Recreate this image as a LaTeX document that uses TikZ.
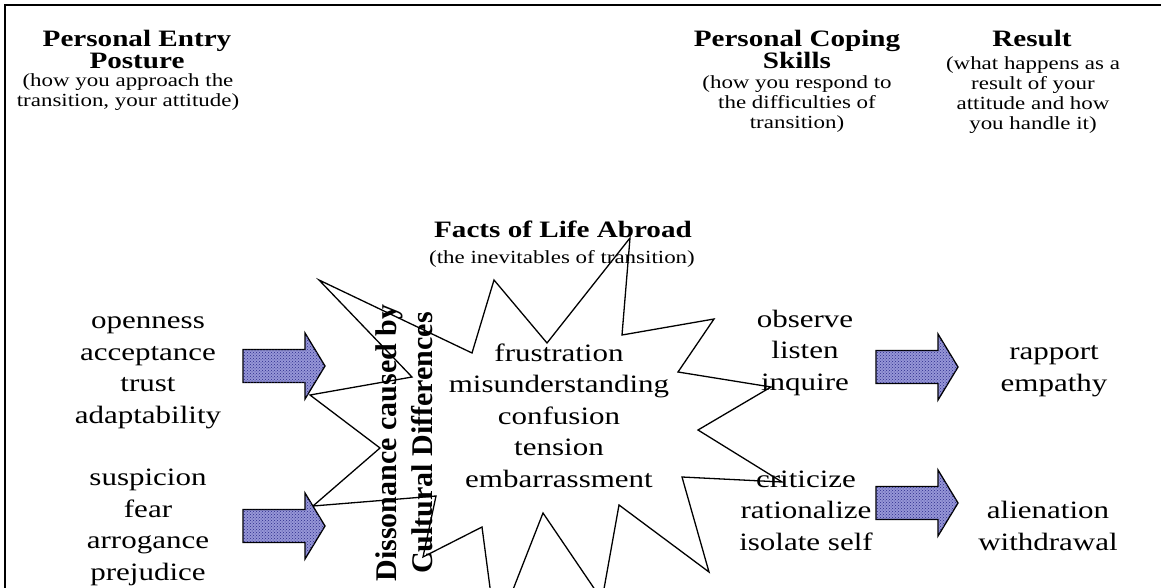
\documentclass[tikz,border=0pt]{standalone}
\usepackage{fontspec}
\setmainfont{Liberation Serif}[FakeStretch=1.24]
\newfontfamily\rotfont{Liberation Serif}
\usetikzlibrary{patterns}
\definecolor{arrowblue}{RGB}{150,150,215}
\definecolor{dotblue}{RGB}{45,45,140}

\begin{document}
\begin{tikzpicture}[x=1pt,y=-1pt,
    every node/.style={inner sep=0pt, outer sep=0pt, align=center, anchor=base},
    heading/.style={font=\fontsize{23.5}{22.5}\selectfont\bfseries},
    remark/.style={font=\fontsize{18.5}{20}\selectfont},
    words/.style={font=\fontsize{25}{31.5}\selectfont},
    blockarrow/.style={draw=black, line width=1.3pt, fill=arrowblue,
        postaction={pattern=crosshatch dots, pattern color=dotblue}}]
    \useasboundingbox (0,0) rectangle (1161,588);
    \draw[line width=2pt] (5,588) -- (5,5) -- (1161,5);

    % the burst
    \draw[line width=1.3pt] (319,280) -- (472,353) -- (494,280) -- (547,343) -- (630,238)
        -- (622,335) -- (714,319) -- (678,372) -- (771,387) -- (698,430) -- (782,482)
        -- (682,477) -- (709,572) -- (619,505) -- (602,600) -- (543,513) -- (496,633)
        -- (482,527) -- (423,557) -- (436,496) -- (313,506) -- (380,448) -- (310,395)
        -- (412,377) -- cycle;

    % block arrows
    \foreach \x/\y in {243/366, 243/526, 876/367, 876/503}
        \draw[blockarrow] (\x,\y) ++(0,-16.5) -- ++(62,0) -- ++(0,-16.5) -- ++(20,33)
            -- ++(-20,33) -- ++(0,-16.5) -- ++(-62,0) -- cycle;

    % nodes sit on the baseline of their last line
    \node[heading] (headEntry) at (137,69) {Personal Entry\\Posture};
    \node[remark] (subEntry) at (128,107) {(how you approach the\\transition, your attitude)};
    \node[heading] (headCoping) at (797,69) {Personal Coping\\Skills};
    \node[remark] (subCoping) at (797,129) {(how you respond to\\the difficulties of\\transition)};
    \node[heading] (headResult) at (1032,47) {Result};
    \node[remark] (subResult) at (1033,130) {(what happens as a\\result of your\\attitude and how\\you handle it)};
    \node[heading] (headFacts) at (563,237) {Facts of Life Abroad};
    \node[remark] (subFacts) at (562,263) {(the inevitables of transition)};

    \node[words] (posEntry) at (148,423) {openness\\acceptance\\trust\\adaptability};
    \node[words] (negEntry) at (148,580) {suspicion\\fear\\arrogance\\prejudice};
    \node[words] (facts) at (559,487) {frustration\\misunderstanding\\confusion\\tension\\embarrassment};
    \node[words] (posCoping) at (805,390) {observe\\listen\\inquire};
    \node[words] (negCoping) at (806,550) {criticize\\rationalize\\isolate self};
    \node[words] (posResult) at (1054,391) {rapport\\empathy};
    \node[words] (negResult) at (1048,550) {alienation\\withdrawal};

    \node[font=\rotfont\fontsize{30}{36}\selectfont\bfseries, rotate=90, anchor=center]
        (dissonance) at (404,443) {Dissonance caused by\\Cultural Differences};
\end{tikzpicture}
\end{document}
